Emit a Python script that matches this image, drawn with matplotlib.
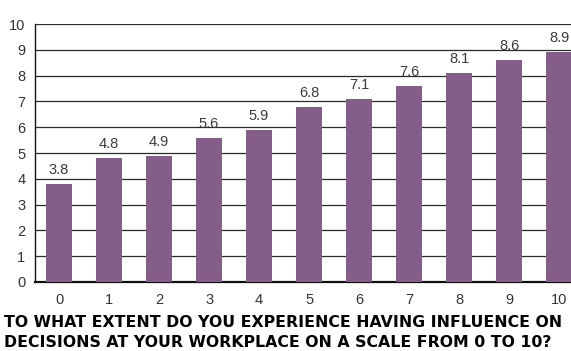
import matplotlib.pyplot as plt

SCORES = [0, 1, 2, 3, 4, 5, 6, 7, 8, 9, 10]
MEANS = [3.8, 4.8, 4.9, 5.6, 5.9, 6.8, 7.1, 7.6, 8.1, 8.6, 8.9]
YTICKS = list(range(0, 11))
QUESTION = ("TO WHAT EXTENT DO YOU EXPERIENCE HAVING INFLUENCE ON\n"
            "DECISIONS AT YOUR WORKPLACE ON A SCALE FROM 0 TO 10?")

BAR = "#845e88"
plt.rcParams["font.family"] = ["Liberation Sans", "DejaVu Sans"]

fig = plt.figure(figsize=(5.71, 3.51), dpi=100)
# axes run off the right edge, as in the printed layout
ax = fig.add_axes([0.0613, 0.1966, 0.96, 0.735])

ax.bar(SCORES, MEANS, width=0.52, color=BAR, zorder=3)
for x, v in zip(SCORES, MEANS):
    ax.annotate(f"{v:.1f}", (x, v), xytext=(0, 5), textcoords="offset points",
                ha="center", va="bottom", fontsize=10.5, color="#3a3a3a", zorder=4)

ax.set_xlim(-0.48, 10.48)
ax.set_ylim(0, 10)
ax.set_yticks(YTICKS)
ax.set_xticks(SCORES)
ax.yaxis.grid(True, color="#2a2a2a", linewidth=0.9, zorder=0)
ax.tick_params(length=0, labelsize=10.5, labelcolor="#333333")
ax.tick_params(axis="y", pad=7)
ax.tick_params(axis="x", pad=8)
ax.spines["top"].set_visible(False)
ax.spines["right"].set_visible(False)
ax.spines["left"].set_color("#111111")
ax.spines["left"].set_linewidth(1.0)
ax.spines["bottom"].set_color("#111111")
ax.spines["bottom"].set_linewidth(1.6)

fig.text(4 / 571, 1 - 347 / 351, QUESTION, fontsize=11.3, fontweight="bold",
         family=["DejaVu Sans"], color="black", ha="left", va="baseline",
         linespacing=1.38)

fig.savefig("out.png", dpi=100)
